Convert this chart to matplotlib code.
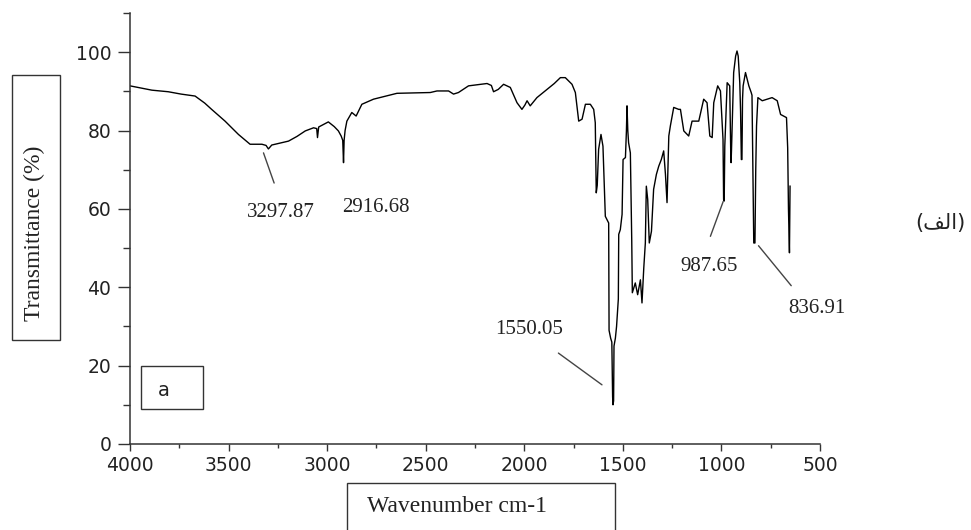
import matplotlib

matplotlib.use("Agg")
import matplotlib.pyplot as plt
from matplotlib.patches import Rectangle
from matplotlib.ticker import MultipleLocator

# FTIR spectrum
wavenumber = [
    4000, 3950, 3889, 3806, 3741, 3670, 3621, 3586, 3518, 3450, 3391, 3331,
    3310, 3298, 3281, 3196, 3153, 3111, 3069, 3053, 3049, 3043, 2994, 2964,
    2943, 2929, 2921, 2917, 2914, 2909, 2900, 2875, 2853, 2824, 2765, 2646,
    2477, 2443, 2384, 2359, 2334, 2283, 2189, 2167, 2156, 2132, 2105, 2071,
    2037, 2012, 1997, 1986, 1970, 1936, 1885, 1848, 1817, 1792, 1758, 1741,
    1724, 1707, 1690, 1665, 1648, 1640, 1635, 1630, 1623, 1611, 1601, 1589,
    1572, 1570, 1562, 1556, 1552, 1550, 1547, 1545, 1538, 1532, 1523, 1521,
    1513, 1504, 1499, 1487, 1482, 1479, 1475, 1471, 1462, 1455, 1452, 1437,
    1425, 1411, 1403, 1394, 1386, 1381, 1374, 1366, 1355, 1344, 1330, 1318,
    1305, 1293, 1284, 1276, 1267, 1259, 1242, 1217, 1208, 1191, 1166, 1149,
    1115, 1090, 1073, 1059, 1047, 1039, 1019, 1005, 992, 989, 986, 983,
    971, 958, 953, 951, 949, 938, 928, 921, 915, 907, 903, 899,
    896, 893, 890, 878, 861, 849, 845, 838, 836, 830, 826, 822,
    815, 793, 743, 717, 700, 670, 664, 660, 655, 652,
]
transmittance = [
    91.4, 90.9, 90.3, 89.9, 89.3, 88.8, 87.0, 85.4, 82.4, 79.0, 76.5, 76.5,
    76.2, 75.3, 76.3, 77.3, 78.5, 79.9, 80.7, 80.5, 78.2, 80.9, 82.2, 81.0,
    79.9, 78.6, 77.5, 71.8, 77.5, 80.0, 82.4, 84.6, 83.7, 86.7, 88.0, 89.5,
    89.7, 90.1, 90.1, 89.3, 89.7, 91.4, 92.0, 91.5, 89.9, 90.5, 91.8, 91.0,
    87.1, 85.4, 86.5, 87.6, 86.3, 88.4, 90.5, 92.0, 93.5, 93.5, 91.8, 89.7,
    82.4, 82.9, 86.7, 86.7, 85.4, 82.0, 64.1, 66.0, 75.2, 79.0, 76.0, 58.1,
    56.4, 29.0, 27.0, 26.0, 12.0, 10.0, 11.0, 25.0, 27.0, 30.0, 37.0, 53.5,
    54.7, 58.6, 72.6, 73.1, 79.9, 86.3, 80.0, 76.9, 74.3, 52.0, 38.6, 41.1,
    38.1, 41.9, 36.0, 44.9, 51.3, 65.8, 62.4, 51.3, 54.3, 65.0, 68.8, 70.9,
    72.6, 74.8, 68.8, 61.6, 78.6, 81.2, 85.9, 85.4, 85.4, 79.9, 78.6, 82.4,
    82.4, 88.0, 87.1, 78.6, 78.2, 87.1, 91.4, 90.1, 77.7, 62.4, 62.0, 76.0,
    92.2, 91.4, 75.0, 71.8, 75.0, 94.8, 99.0, 100.3, 99.0, 92.2, 85.0, 72.6,
    72.6, 88.0, 91.4, 94.8, 91.4, 89.7, 89.0, 60.0, 51.3, 51.3, 70.0, 81.2,
    88.4, 87.6, 88.4, 87.6, 84.1, 83.3, 75.6, 60.0, 48.8, 65.8,
]

# peak labels: text, text position, leader line (start, end) or None
peak_labels = ["3297.87", "2916.68", "1550.05", "987.65", "836.91"]
label_pos = [(3233, 59.0), (2754, 60.3), (1975, 29.1), (1061, 45.2), (515, 34.5)]
leaders = [
    ((3323, 74.3), (3269, 66.6)),
    None,
    ((1827, 23.2), (1606, 15.1)),
    ((1056, 53.0), (991, 61.9)),
    ((812, 50.6), (646, 40.4)),
]

serif = "Liberation Serif"

fig = plt.figure(figsize=(9.71, 5.30), dpi=100)
ax = fig.add_axes([0.1339, 0.1623, 0.7106, 0.8132])

ax.plot(wavenumber, transmittance, color="black", lw=1.0)

ax.set_xlim(4000, 500)
ax.set_ylim(0, 110)
ax.xaxis.set_major_locator(MultipleLocator(500))
ax.xaxis.set_minor_locator(MultipleLocator(250))
ax.yaxis.set_major_locator(MultipleLocator(20))
ax.yaxis.set_minor_locator(MultipleLocator(10))
ax.set_yticks([0, 20, 40, 60, 80, 100])

for s in ["top", "right"]:
    ax.spines[s].set_visible(False)
for s in ["left", "bottom"]:
    ax.spines[s].set_linewidth(1.1)
    ax.spines[s].set_color("#333333")

ax.tick_params(axis="x", which="major", length=5, width=1, pad=4,
               labelsize=13.5, colors="#333333", labelcolor="#222222")
ax.tick_params(axis="x", which="minor", length=3, width=1, colors="#333333")
ax.tick_params(axis="y", which="major", length=8.5, width=1, pad=5,
               labelsize=13.5, colors="#333333", labelcolor="#222222")
ax.tick_params(axis="y", which="minor", length=5, width=1, colors="#333333")

for txt, pos, ld in zip(peak_labels, label_pos, leaders):
    ax.text(pos[0], pos[1], txt, family=serif, fontsize=15,
            ha="center", va="center", color="#222222")
    if ld is not None:
        ax.annotate("", xy=ld[1], xytext=ld[0],
                    arrowprops=dict(arrowstyle="-", color="#444444", lw=1.0,
                                    shrinkA=0, shrinkB=0))

# boxed axis titles and the panel letter
fig.patches.append(Rectangle((12 / 971, 1 - 340 / 530), 48 / 971, 265 / 530,
                             transform=fig.transFigure, fill=False,
                             lw=1.0, ec="#333333"))
fig.text(34 / 971, 1 - 233 / 530, "Transmittance (%)", family=serif,
         fontsize=17, rotation=90, ha="center", va="center", color="#222222")

fig.patches.append(Rectangle((347 / 971, -0.05), 268 / 971, 0.05 + 47 / 530,
                             transform=fig.transFigure, fill=False,
                             lw=1.0, ec="#333333"))
fig.text(457 / 971, 1 - 507 / 530, "Wavenumber cm-1", family=serif,
         fontsize=17, ha="center", va="center", color="#222222")

fig.patches.append(Rectangle((141 / 971, 1 - 409 / 530), 62 / 971, 43 / 530,
                             transform=fig.transFigure, fill=False,
                             lw=1.0, ec="#333333"))
fig.text(164 / 971, 1 - 391 / 530, "a", fontsize=14, ha="center",
         va="center", color="#222222")

# "(الف)" written with presentation forms so it joins right-to-left
fig.text(940 / 971, 1 - 223 / 530, "(\ufed2\ufedf\ufe8d)",
         family=["DejaVu Sans"], fontsize=15, ha="center", va="center",
         color="#222222")

fig.savefig("out.png", dpi=100)
